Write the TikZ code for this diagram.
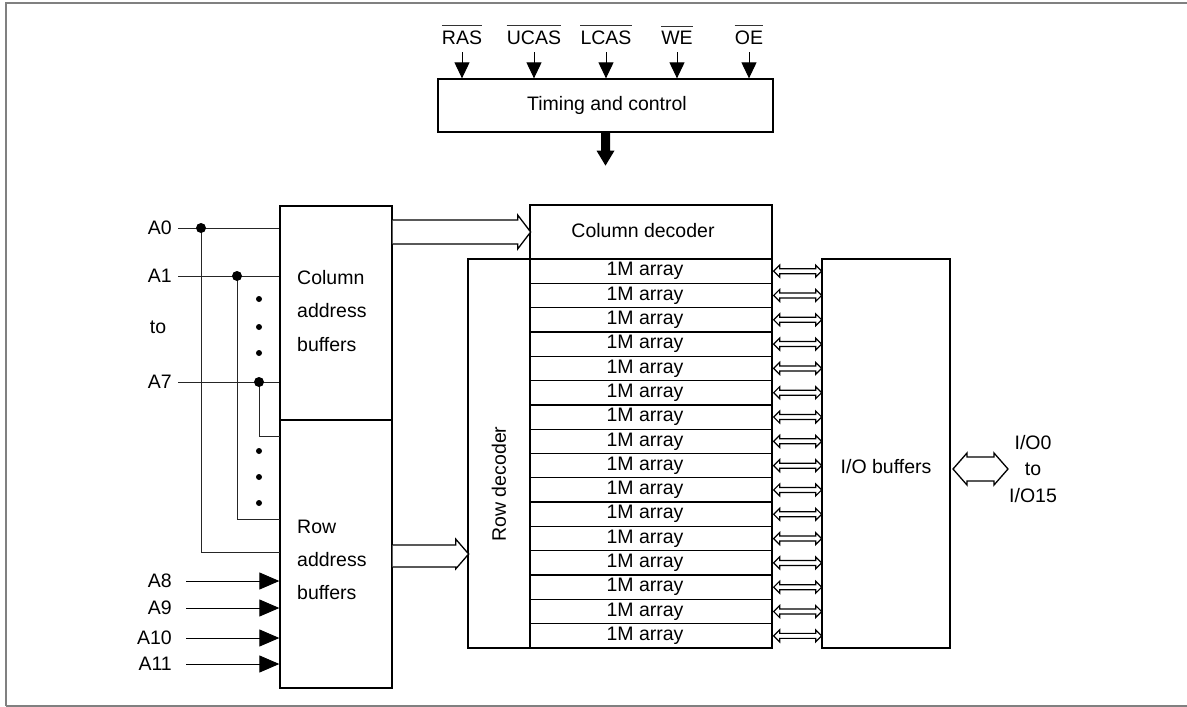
\documentclass[tikz,border=0pt]{standalone}
\usepackage{fontspec}
\setmainfont{Liberation Sans}
\usetikzlibrary{arrows.meta}
\begin{document}
\begin{tikzpicture}[x=1pt,y=-1pt,
  every node/.style={font=\fontsize{19.5}{22}\selectfont, inner sep=0pt},
  box/.style={draw, line width=1.3pt, fill=white},
  arr/.style={draw, line width=1.3pt, minimum width=242pt, minimum height=24.3125pt},
  wire/.style={line width=1pt, black!85},
  sig/.style={line width=1pt, -{Triangle[length=16pt,width=15pt]}},
  ain/.style={line width=1pt, shorten <=14pt, -{Triangle[length=20pt,width=17pt]}},
  hollow/.style={draw, line width=1.3pt, fill=white, line join=miter},
  dbl/.style={draw, line width=1.2pt, fill=white, line join=miter},
  ovline/.style={line width=0.9pt, black!80},
  frame/.style={line width=2pt, gray}]
\useasboundingbox (0,0) rectangle (1187,707);
% frame
\draw[frame] (6,706) -- (6,3) -- (1187,3);
\draw[frame] (6,706) -- (1187,706);

% timing and control
\node[box, minimum width=335pt, minimum height=53pt] (timing) at (605.5,105.5) {};
\node (timtxt) at (607,105.5) {Timing and control};
\node (ras)  at (462,38) {RAS};
\node (ucas) at (534,38) {UCAS};
\node (lcas) at (606,38) {LCAS};
\node (we)   at (677,38) {WE};
\node (oe)   at (749,38) {OE};
\foreach \s in {ras,ucas,lcas,we,oe}{
  \draw[ovline] ([yshift=5pt]\s.north west) -- ([yshift=5pt]\s.north east);
  \draw[sig] ([yshift=-14pt]\s.center) -- (\s.center |- timing.north);
}
\fill[shift={(timing.south)}] (-4.5,0) -- (-4.5,18) -- (-9,18) -- (0,33) -- (9,18) -- (4.5,18) -- (4.5,0) -- cycle;

% address buffers
\node[box, minimum width=112pt, minimum height=214pt] (colbuf) at (336,313) {};
\node[box, minimum width=112pt, minimum height=268pt] (rowbuf) at (336,554) {};
\node[anchor=west, align=left, font=\fontsize{19.5}{33.5}\selectfont] (coltxt) at (297,311) {Column\\address\\buffers};
\node[anchor=west, align=left, font=\fontsize{19.5}{33}\selectfont] (rowtxt) at (297,560) {Row\\address\\buffers};

% address labels
\node[anchor=east] (a0) at (172,228) {A0};
\node[anchor=east] (a1) at (172,276) {A1};
\node (ato) at (158,327) {to};
\node[anchor=east] (a7) at (172,382) {A7};
\node[anchor=east] (a8) at (172,581) {A8};
\node[anchor=east] (a9) at (172,608) {A9};
\node[anchor=east] (a10) at (172,638) {A10};
\node[anchor=east] (a11) at (172,664) {A11};

\draw[wire, shorten <=6pt] (a0.east) -- (a0.east -| colbuf.west);
\draw[wire, shorten <=6pt] (a1.east) -- (a1.east -| colbuf.west);
\draw[wire, shorten <=6pt] (a7.east) -- (a7.east -| colbuf.west);
\coordinate (j0) at (201,228);
\coordinate (j1) at (237,276);
\coordinate (j7) at (259,382);
\coordinate (e0) at (280,552);
\coordinate (e1) at (280,519);
\coordinate (e7) at (280,436);
\draw[wire] (j0) |- (e0);
\draw[wire] (j1) |- (e1);
\draw[wire] (j7) |- (e7);
\foreach \c in {j0,j1,j7} \fill (\c) circle (5pt);
\foreach \y in {299,327,353,451,477,503} \fill (259,\y) circle (3pt);

\foreach \a in {a8,a9,a10,a11}
  \draw[ain] (\a.east) -- (\a.east -| rowbuf.west);

% decoders and arrays
\node[box, minimum width=242pt, minimum height=54pt] (coldec) at (651,232) {};
\node (coldectxt) at (643,231) {Column decoder};
\node[box, minimum width=62pt, minimum height=389pt] (rowdec) at (499,453.5) {};
\node[rotate=90] (rowtxt2) at (499,484) {Row decoder};
\foreach \i in {0,...,15}{
  \node[arr] (arr\i) at (651,{259+24.3125*\i+12.156}) {};
  \node (arrtxt\i) at (645,{259+24.3125*\i+12.156}) {1M array};
}

\node[box, minimum width=128pt, minimum height=389pt] (iobuf) at (886,453.5) {};
\node (iotxt) at (886,467) {I/O buffers};

% wide hollow arrows
\draw[hollow, shift={(colbuf.east |- coldec.west)}] (0,-12) -- (125,-12) -- (125,-17) -- (138,0) -- (125,17) -- (125,12) -- (0,12);
\draw[hollow, shift={(rowbuf.east)}] (0,-9) -- (63,-9) -- (63,-15) -- (76,0) -- (63,15) -- (63,13) -- (0,13);

% double arrows arrays <-> io buffers
\foreach \i in {0,...,15}
  \draw[dbl, shift={(arr\i.east)}] (1,0) -- (7,-6) -- (7,-2.5) -- (43,-2.5) -- (43,-6) -- (49,0) -- (43,6) -- (43,2.5) -- (7,2.5) -- (7,6) -- cycle;

% io arrow
\coordinate (ioa) at (950,469);
\draw[hollow, shift={(ioa)}] (3,0) -- (17,-16) -- (17,-12) -- (44,-12) -- (44,-16) -- (58,0) -- (44,16) -- (44,12) -- (17,12) -- (17,16) -- cycle;
\node (io0) at (1033,443) {I/O0};
\node (ioto) at (1033,469) {to};
\node (io15) at (1033,496) {I/O15};
\end{tikzpicture}
\end{document}
